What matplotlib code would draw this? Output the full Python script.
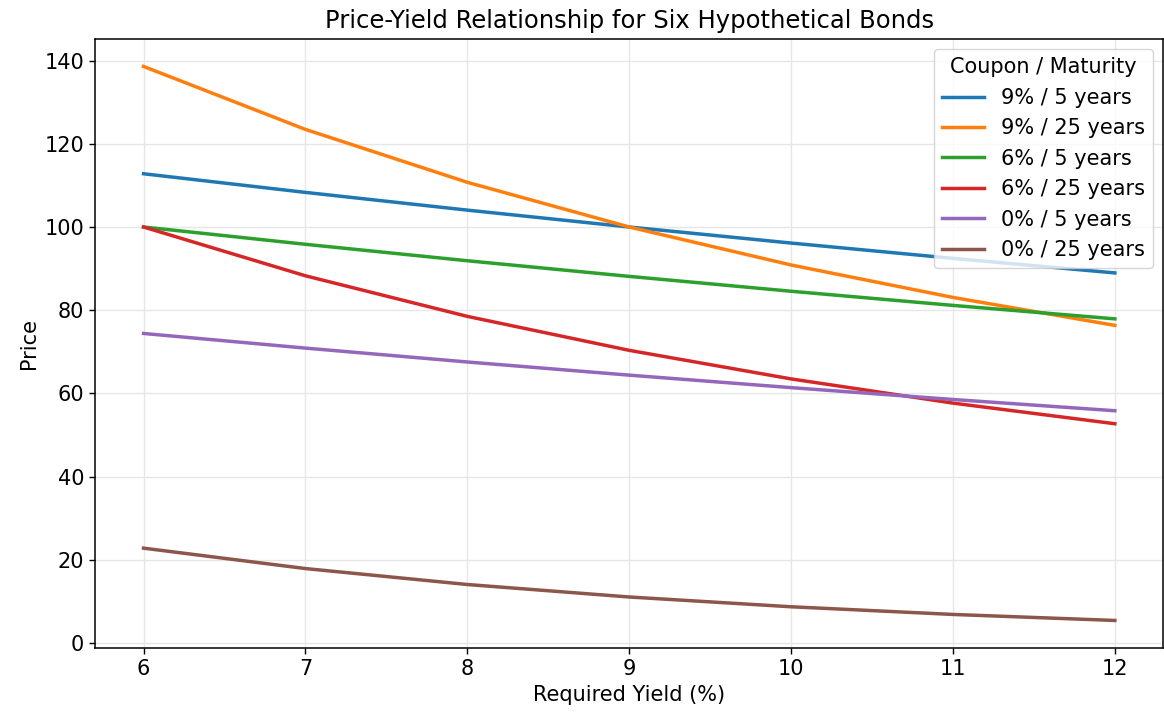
import matplotlib
matplotlib.use("Agg")
import matplotlib.pyplot as plt

# required yield (%)
yields = [6, 7, 8, 9, 10, 11, 12]

# bond prices per 100 par, semiannual compounding
p_9_5 = [112.7953, 108.3166, 104.0554, 100.0000, 96.1391, 92.4624, 88.9599]
p_9_25 = [138.5946, 123.4556, 110.7410, 100.0000, 90.8720, 83.0685, 76.3572]
p_6_5 = [100.0000, 95.8417, 91.8891, 88.1309, 84.5565, 81.1559, 77.9197]
p_6_25 = [100.0000, 88.2722, 78.5178, 70.3570, 63.4881, 57.6712, 52.7144]
p_0_5 = [74.4094, 70.8919, 67.5564, 64.3928, 61.3913, 58.5431, 55.8395]
p_0_25 = [22.8107, 17.9053, 14.0713, 11.0710, 8.7204, 6.8767, 5.4288]

labels = ['9% / 5 years', '9% / 25 years', '6% / 5 years',
          '6% / 25 years', '0% / 5 years', '0% / 25 years']
series = [p_9_5, p_9_25, p_6_5, p_6_25, p_0_5, p_0_25]

fig, ax = plt.subplots(figsize=(11.64, 7.17), dpi=100)

for prices, lab in zip(series, labels):
    ax.plot(yields, prices, lw=2.5, label=lab)

ax.set_title('Price-Yield Relationship for Six Hypothetical Bonds', fontsize=17.5, pad=8)
ax.set_xlabel('Required Yield (%)', fontsize=15)
ax.set_ylabel('Price', fontsize=15)
ax.tick_params(labelsize=15, length=4.4, width=1)
for sp in ax.spines.values():
    sp.set_linewidth(1.1)
ax.grid(True, color='#e6e6e6', lw=1)
ax.set_axisbelow(True)
ax.legend(title='Coupon / Maturity', loc='upper right', fontsize=15,
          title_fontsize=15)

fig.subplots_adjust(left=0.0816, right=0.9995, top=0.946, bottom=0.096)
plt.savefig('out.png')
